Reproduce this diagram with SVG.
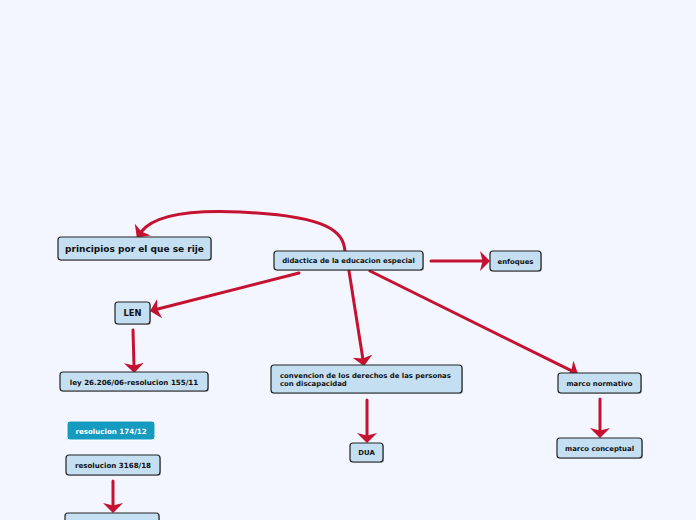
<svg xmlns="http://www.w3.org/2000/svg" width="696" height="520" viewBox="0 0 696 520">
<style>
.n rect.b{fill:#c4def2;stroke:#222;stroke-width:1.2}
.n rect.s{fill:#000;opacity:0.25}
.t{font-family:"DejaVu Sans",Verdana,sans-serif;font-weight:bold;fill:#111;text-anchor:middle}
.l{text-anchor:start}
.c path{fill:none;stroke:#c41230;stroke-width:3;stroke-linecap:round}
</style>
<defs>
<marker id="ah" viewBox="0 0 10 20" markerUnits="userSpaceOnUse" markerWidth="10" markerHeight="20" refX="3" refY="10" orient="auto">
<path d="M0,0 L10,10 L0,20 L2.5,10 z" fill="#c41230"/>
</marker>
</defs>
<rect width="696" height="520" fill="#f3f6fe"/>
<g class="c">
<path d="M345,251 C343,232 330,216 240,212 C175,209 150,220 141,232" marker-end="url(#ah)"/>
<path d="M431,261 L483,261" marker-end="url(#ah)"/>
<path d="M299,273 L156.8,309.3" marker-end="url(#ah)"/>
<path d="M133,330 L134,366" marker-end="url(#ah)"/>
<path d="M349,271 L362.9,359.1" marker-end="url(#ah)"/>
<path d="M370,271 L571.7,370.9" marker-end="url(#ah)"/>
<path d="M367,400 L367,436" marker-end="url(#ah)"/>
<path d="M600,399 L600,431" marker-end="url(#ah)"/>
<path d="M113,481 L113,506" marker-end="url(#ah)"/>
</g>
<g id="principios" class="n"><rect class="s" x="59" y="238" width="153" height="23" rx="3"/><rect class="b" x="58" y="237" width="153" height="23" rx="3"/><text class="t" x="134.5" y="251.5" font-size="9">principios por el que se rije</text></g>
<g id="didactica" class="n"><rect class="s" x="275" y="252" width="149" height="19" rx="3"/><rect class="b" x="274" y="251" width="149" height="19" rx="3"/><text class="t" x="348.5" y="263" font-size="6.9">didactica de la educacion especial</text></g>
<g id="enfoques" class="n"><rect class="s" x="491" y="252" width="51" height="20" rx="3"/><rect class="b" x="490" y="251" width="51" height="20" rx="3"/><text class="t" x="515.5" y="263.5" font-size="6.9">enfoques</text></g>
<g id="len" class="n"><rect class="s" x="116" y="303" width="35" height="22" rx="3"/><rect class="b" x="115" y="302" width="35" height="22" rx="3"/><text class="t" x="132.5" y="316" font-size="8.3">LEN</text></g>
<g id="ley" class="n"><rect class="s" x="61" y="373" width="148" height="19" rx="3"/><rect class="b" x="60" y="372" width="148" height="19" rx="3"/><text class="t" x="134" y="384.5" font-size="7.1">ley 26.206/06-resolucion 155/11</text></g>
<g id="convencion" class="n"><rect class="s" x="272" y="366" width="191" height="28" rx="3"/><rect class="b" x="271" y="365" width="191" height="28" rx="3"/><text class="t l" x="280" y="377.5" font-size="6.9">convencion de los derechos de las personas</text><text class="t l" x="280" y="386" font-size="6.9">con discapacidad</text></g>
<g id="dua" class="n"><rect class="s" x="351" y="444" width="33" height="19" rx="3"/><rect class="b" x="350" y="443" width="33" height="19" rx="3"/><text class="t" x="366.5" y="455" font-size="6.9">DUA</text></g>
<g id="marconormativo" class="n"><rect class="s" x="559" y="374" width="83" height="20" rx="3"/><rect class="b" x="558" y="373" width="83" height="20" rx="3"/><text class="t" x="599.5" y="385.5" font-size="6.9">marco normativo</text></g>
<g id="marcoconceptual" class="n"><rect class="s" x="558" y="439" width="85" height="20" rx="3"/><rect class="b" x="557" y="438" width="85" height="20" rx="3"/><text class="t" x="599.5" y="450.5" font-size="6.9">marco conceptual</text></g>
<g id="resolucion174" class="n"><rect x="67" y="421" width="88" height="19" rx="3" fill="#159bbf" stroke="#fff" stroke-width="1"/><text class="t" x="111" y="433.5" font-size="7.1" style="fill:#fff">resolucion 174/12</text></g>
<g id="resolucion3168" class="n"><rect class="s" x="67" y="456" width="94" height="20" rx="3"/><rect class="b" x="66" y="455" width="94" height="20" rx="3"/><text class="t" x="113" y="467.5" font-size="7.1">resolucion 3168/18</text></g>
<g id="bottomnode" class="n"><rect class="s" x="66" y="514" width="94" height="20" rx="3"/><rect class="b" x="65" y="513" width="94" height="20" rx="3"/></g>
</svg>
